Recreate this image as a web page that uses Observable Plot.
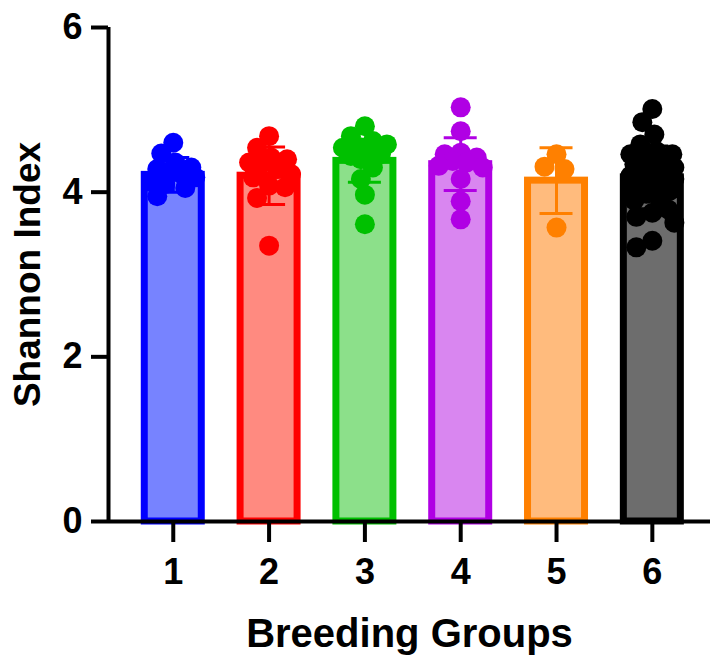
<!DOCTYPE html>
<html><head><meta charset="utf-8">
<script src="https://cdn.jsdelivr.net/npm/d3@7"></script>
<script src="https://cdn.jsdelivr.net/npm/@observablehq/plot@0.6"></script>
<style>body{margin:0;background:#fff}</style>
</head><body><div id="chart"></div>
<script>
// ---- data ----
const groups = [1, 2, 3, 4, 5, 6];
const xTickLabels = ["1", "2", "3", "4", "5", "6"];
const yTicks = [0, 2, 4, 6];
const yTickLabels = ["0", "2", "4", "6"];
const means = [4.21, 4.20, 4.38, 4.34, 4.14, 4.18];
const sds = [0.21, 0.35, 0.26, 0.32, 0.40, 0.38];
const group1 = [4.60, 4.47, 4.36, 4.30, 4.28, 4.25, 4.22, 4.18, 4.12, 4.10, 4.05, 3.95];
const group2 = [4.68, 4.54, 4.42, 4.40, 4.36, 4.34, 4.28, 4.22, 4.18, 4.08, 4.06, 3.93, 3.35];
const group3 = [4.80, 4.68, 4.62, 4.58, 4.55, 4.54, 4.50, 4.46, 4.44, 4.40, 4.30, 4.16, 3.97, 3.61];
const group4 = [5.03, 4.74, 4.48, 4.46, 4.42, 4.38, 4.36, 4.32, 4.30, 4.16, 3.89, 3.67];
const group5 = [4.46, 4.31, 4.28, 3.57];
const group6 = [5.01, 4.85, 4.70, 4.58, 4.50, 4.46, 4.46, 4.40, 4.38, 4.34, 4.30, 4.28, 4.26, 4.22, 4.20,
                4.16, 4.14, 4.12, 4.10, 4.06, 4.02, 3.98, 3.95, 3.90, 3.79, 3.75, 3.70, 3.63, 3.41, 3.33];
const strokeColors = ["#0000ff", "#ff0000", "#00c000", "#b000e4", "#ff8000", "#000000"];
const fillColors = ["#7783ff", "#ff8a80", "#8ce08a", "#d986f0", "#ffbb7d", "#6d6d6d"];
const xLabel = "Breeding Groups";
const yLabel = "Shannon Index";

// ---- layout ----
const W = 710, H = 658, mL = 108, mR = 0, mT = 27, mB = 137;
const xDomain = [0.324, 6.607];
const yDomain = [0, 6];
const pxX = (W - mL - mR) / (xDomain[1] - xDomain[0]);
const pxY = (H - mT - mB) / (yDomain[1] - yDomain[0]);
const barHalf = 28.5 / pxX;
const capHalf = 16.5 / pxX;

const allGroups = [group1, group2, group3, group4, group5, group6];

const bars = groups.map((g, i) => ({
  g, mean: means[i], lo: means[i] - sds[i], hi: means[i] + sds[i],
  stroke: strokeColors[i], fill: fillColors[i]
}));

// deterministic scatter spreading (pixel space), partial overlap allowed like the original
const points = [];
allGroups.forEach((vals, gi) => {
  const placed = [];
  const cands = [0];
  for (let k = 2; k <= 22; k += 2) cands.push(-k, k);
  vals.forEach(v => {
    const py = v * pxY;
    let best = 0, bestD = -1, chosen = null;
    for (const o of cands) {
      let d = Infinity;
      for (const p of placed) d = Math.min(d, Math.hypot(p.o - o, p.py - py));
      if (d >= 16) { chosen = o; break; }
      if (d > bestD) { bestD = d; best = o; }
    }
    const o = chosen === null ? best : chosen;
    placed.push({o, py});
    points.push({x: groups[gi] + o / pxX, y: v, color: strokeColors[gi]});
  });
});

const font = '"Liberation Sans", Arial, Helvetica, sans-serif';

const chart = Plot.plot({
  width: W, height: H,
  marginLeft: mL, marginRight: mR, marginTop: mT, marginBottom: mB,
  style: {fontFamily: font, background: "white", overflow: "visible"},
  x: {domain: xDomain, axis: null},
  y: {domain: yDomain, axis: null},
  color: {type: "identity"},
  marks: [
    Plot.rectY(bars, {x1: d => d.g - barHalf, x2: d => d.g + barHalf, y1: 0, y2: "mean",
      fill: "fill", stroke: "stroke", strokeWidth: 7}),
    Plot.ruleX(bars, {x: "g", y1: "lo", y2: "hi", stroke: "stroke", strokeWidth: 3}),
    Plot.ruleY(bars, {y: "hi", x1: d => d.g - capHalf, x2: d => d.g + capHalf, stroke: "stroke", strokeWidth: 3}),
    Plot.ruleY(bars, {y: "lo", x1: d => d.g - capHalf, x2: d => d.g + capHalf, stroke: "stroke", strokeWidth: 3}),
    Plot.dot(points, {x: "x", y: "y", r: 10, fill: "color", stroke: null}),
    Plot.ruleY([yDomain[0]], {stroke: "black", strokeWidth: 4}),
    Plot.ruleX([xDomain[0]], {stroke: "black", strokeWidth: 4}),
    Plot.axisX({ticks: groups, tickFormat: d => xTickLabels[groups.indexOf(d)], tickSize: 21, tickPadding: 16,
      fontSize: 36, fontWeight: "bold", strokeWidth: 4, label: null, fill: "black", stroke: "black"}),
    Plot.axisY({ticks: yTicks, tickFormat: d => yTickLabels[yTicks.indexOf(d)], tickSize: 17, tickPadding: 9,
      fontSize: 36, fontWeight: "bold", strokeWidth: 4, label: null, fill: "black", stroke: "black"}),
    Plot.text([xLabel], {frameAnchor: "bottom", textAnchor: "middle", dy: 125, fontSize: 40, fontWeight: "bold", fill: "black"}),
    Plot.text([yLabel], {frameAnchor: "left", textAnchor: "middle", rotate: -90, dx: -80, fontSize: 37, fontWeight: "bold", fill: "black"})
  ]
});
document.getElementById("chart").appendChild(chart);
</script>
</body></html>
